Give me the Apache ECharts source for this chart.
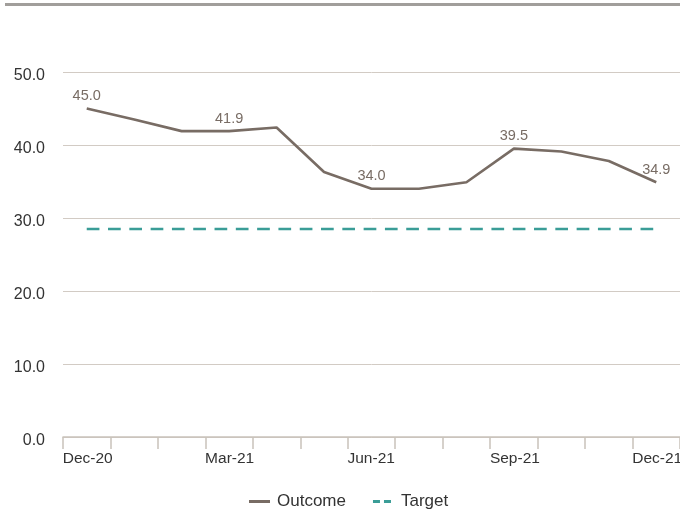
<!DOCTYPE html>
<html>
<head>
<meta charset="utf-8">
<script src="https://cdn.jsdelivr.net/npm/echarts@6/dist/echarts.min.js"></script>
<style>
  html, body { margin: 0; padding: 0; background: #fff; overflow: hidden; }
  #chart { width: 680px; height: 513px; }
</style>
</head>
<body>
<div id="chart"></div>
<script>
// Monthly periods on the category axis
const months = ['Dec-20', 'Jan-21', 'Feb-21', 'Mar-21', 'Apr-21', 'May-21', 'Jun-21',
                'Jul-21', 'Aug-21', 'Sep-21', 'Oct-21', 'Nov-21', 'Dec-21'];
// Actual outcome per month
const outcome = [45.0, 43.5, 41.9, 41.9, 42.4, 36.3, 34.0, 34.0, 34.9, 39.5, 39.1, 37.8, 34.9];
// Flat target level
const target = [28.5, 28.5, 28.5, 28.5, 28.5, 28.5, 28.5, 28.5, 28.5, 28.5, 28.5, 28.5, 28.5];
// Months whose outcome value is printed above the line
const labelledMonths = ['Dec-20', 'Mar-21', 'Jun-21', 'Sep-21', 'Dec-21'];
// Value axis ticks
const yTicks = [0, 10, 20, 30, 40, 50];

const FONT = '"Liberation Sans", Arial, Helvetica, sans-serif';
const OUTCOME_COLOR = '#786c64';
const TARGET_COLOR = '#3a9d97';
const GRID_COLOR = '#d2cbc4';
const AXIS_COLOR = '#c9c2ba';

const chart = echarts.init(document.getElementById('chart'), null, { renderer: 'canvas' });

chart.setOption({
  animation: false,
  backgroundColor: '#ffffff',
  textStyle: { fontFamily: FONT },
  graphic: [{
    type: 'rect',
    shape: { x: 5, y: 3, width: 675, height: 3 },
    style: { fill: '#a19e9b' },
    silent: true
  }],
  // the last month label runs off the right edge; keep the plot full width anyway
  grid: { left: 63, right: 0, top: 72, bottom: 76, containLabel: false, outerBoundsMode: 'none' },
  legend: {
    left: 244,
    top: 488,
    itemWidth: 21,
    itemHeight: 14,
    itemGap: 27,
    textStyle: { fontFamily: FONT, fontSize: 17, color: '#333333', padding: [0, 0, 0, 2] },
    data: [
      { name: 'Outcome', icon: 'path://M0,6 L21,6 L21,9 L0,9 Z', itemStyle: { color: OUTCOME_COLOR, opacity: 1 } },
      { name: 'Target', icon: 'path://M0,6 L7,6 L7,9 L0,9 Z M11,6 L18,6 L18,9 L11,9 Z M21,6 L21,9 Z', itemStyle: { color: TARGET_COLOR, opacity: 1 } }
    ]
  },
  xAxis: {
    type: 'category',
    data: months,
    boundaryGap: true,
    axisLine: { lineStyle: { color: AXIS_COLOR, width: 1.5 } },
    axisTick: { show: true, interval: 0, length: 12, lineStyle: { color: AXIS_COLOR, width: 1.5 } },
    axisLabel: {
      interval: 2,
      margin: 14,
      align: 'left',
      padding: [0, 0, 0, -24],
      fontFamily: FONT,
      fontSize: 15.5,
      color: '#333333'
    },
    splitLine: { show: false }
  },
  yAxis: {
    type: 'value',
    min: yTicks[0],
    max: yTicks[yTicks.length - 1],
    interval: yTicks[1] - yTicks[0],
    axisLine: { show: false },
    axisTick: { show: false },
    axisLabel: {
      margin: 18,
      fontFamily: FONT,
      fontSize: 16,
      color: '#333333',
      verticalAlign: 'top',
      lineHeight: 8,
      formatter: v => v.toFixed(1)
    },
    splitLine: { lineStyle: { color: GRID_COLOR, width: 1 } }
  },
  series: [
    {
      name: 'Outcome',
      type: 'line',
      data: outcome,
      symbol: 'circle',
      symbolSize: 0.1,
      showSymbol: true,
      itemStyle: { color: OUTCOME_COLOR },
      color: OUTCOME_COLOR,
      lineStyle: { color: OUTCOME_COLOR, width: 2.6 },
      label: {
        show: true,
        position: 'top',
        distance: 5,
        fontFamily: FONT,
        fontSize: 14.5,
        color: OUTCOME_COLOR,
        formatter: p => labelledMonths.includes(p.name) ? p.value.toFixed(1) : ''
      },
      z: 3
    },
    {
      name: 'Target',
      type: 'line',
      data: target,
      symbol: 'none',
      color: TARGET_COLOR,
      lineStyle: { color: TARGET_COLOR, width: 2.6, type: [12.7, 8.6] },
      z: 2
    }
  ]
});
</script>
</body>
</html>
